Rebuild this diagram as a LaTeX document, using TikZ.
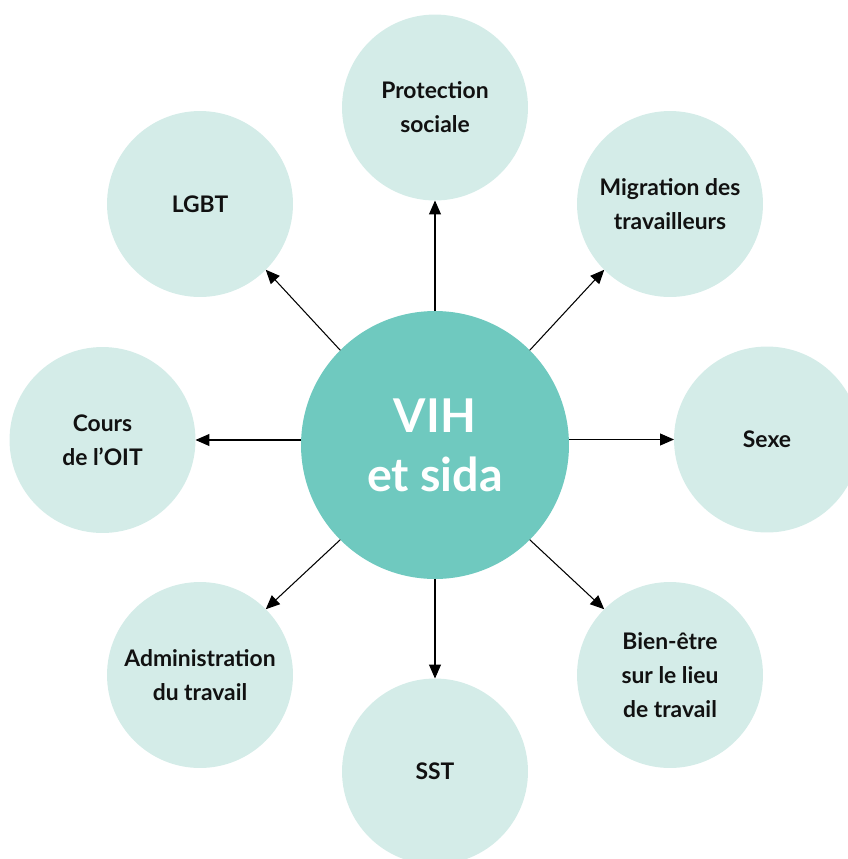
\documentclass[tikz,border=0pt]{standalone}
\usepackage{fontspec}
\setmainfont{Lato}
\usetikzlibrary{arrows.meta}

\definecolor{hubteal}{RGB}{111,201,191}
\definecolor{topicmint}{RGB}{212,236,232}
\definecolor{inkdark}{RGB}{17,17,17}

\tikzset{
  hub/.style={circle, fill=hubteal, draw=none, inner sep=0pt, outer sep=0pt,
    minimum size=5.36cm, text=white, align=center,
    font=\fontsize{26.5pt}{33.5pt}\selectfont\bfseries},
  topic/.style={circle, fill=topicmint, draw=none, inner sep=0pt, outer sep=0pt,
    minimum size=3.72cm, text=inkdark, align=center,
    font=\fontsize{13pt}{19.3pt}\selectfont\bfseries},
  link/.style={draw=black, line width=0.6pt,
    -{Triangle[length=0.28cm, width=0.24cm]}}
}

\begin{document}
\begin{tikzpicture}[x=0.02cm, y=-0.02cm]
  \useasboundingbox (0,0) rectangle (848,859);
  \clip (0,0) rectangle (848,859);

  % central theme
  \node[hub] (hub) at (435,445) {VIH\\et sida};

  % surrounding topics
  \node[topic] (prot)  at (435,107.5)   {Protection\\sociale};
  \node[topic] (mig)   at (670,204)     {Migration des\\travailleurs};
  \node[topic] (sexe)  at (767,439.5)   {Sexe};
  \node[topic] (bien)  at (670,675)     {Bien-être\\sur le lieu\\de travail};
  \node[topic] (sst)   at (435,771.5)   {SST};
  \node[topic] (adm)   at (200,675)     {Administration\\du travail};
  \node[topic] (cours) at (102.5,440)   {Cours\\de l’OIT};
  \node[topic] (lgbt)  at (200,204)     {LGBT};

  % arrows from the hub to each topic
  \draw[link] (hub.north) -- (prot.south);
  \draw[link] (hub.45)    -- (mig.225);
  \draw[link] (sexe.west -| hub.east) -- (sexe.west);
  \draw[link] (hub.-45)   -- (bien.135);
  \draw[link] (hub.south) -- (sst.north);
  \draw[link] (hub.225)   -- (adm.45);
  \draw[link] (cours.east -| hub.west) -- (cours.east);
  \draw[link] (hub.135)   -- (lgbt.-45);
\end{tikzpicture}
\end{document}
